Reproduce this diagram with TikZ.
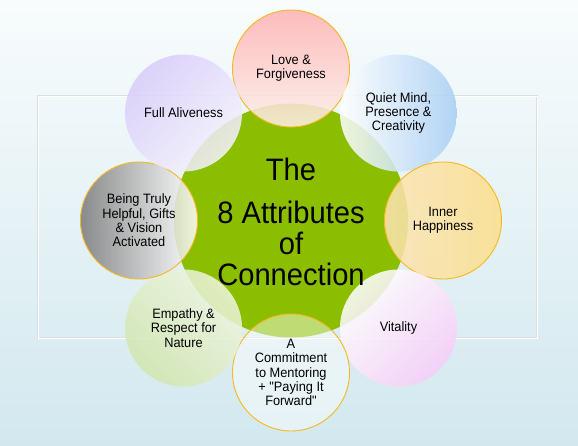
\documentclass[tikz,border=0pt]{standalone}
\usepackage{fontspec}
\setmainfont{Liberation Sans}
\newfontfamily\satfont[FakeStretch=0.94]{Liberation Sans}
\definecolor{bgtop}{HTML}{F8FCFD}
\definecolor{bgbot}{HTML}{D2E8EF}
\definecolor{hubgreen}{HTML}{8CBE00}
\definecolor{rimorange}{HTML}{F6B81E}
\definecolor{lovepink}{HTML}{FDB2B2}
\definecolor{lovelight}{HTML}{FFF0EA}
\definecolor{quietblue}{HTML}{A8CEF4}
\definecolor{innerlight}{HTML}{FCE4B4}
\definecolor{innergold}{HTML}{FCDF8A}
\definecolor{vitalpink}{HTML}{F8CDF8}
\definecolor{empgreen}{HTML}{D2E6AE}
\definecolor{emplight}{HTML}{EEF5E0}
\definecolor{helpgray}{HTML}{7A7A7A}
\definecolor{alivelav}{HTML}{D8CCFA}
\definecolor{alivelight}{HTML}{F6F3FD}
\begin{document}
\begin{tikzpicture}[x=1pt,y=1pt,
  sat/.style={circle,minimum size=117pt,inner sep=0pt,align=center,
    font=\satfont\fontsize{13.6}{14.3}\selectfont,fill opacity=0.86,text opacity=1},
  rim/.style={draw=rimorange,line width=0.9pt,draw opacity=1}]
% background and frame
\shade[top color=bgtop,middle color=bgtop,bottom color=bgbot] (-291,-225.5) rectangle (287,220.5);
\draw[black!13,line width=2.4pt] (-253,-117.5) rectangle (246,124.5);
\draw[white,line width=0.6pt] (-253,-117.5) rectangle (246,124.5);
% hub
\node[circle,fill=hubgreen,minimum size=234pt,inner sep=0pt] (hub) at (0,0) {};
% the eight attributes
\node[sat,rim,top color=lovepink,bottom color=lovelight] (love) at (90:152) {Love \&\\Forgiveness};
\node[sat,left color=white,right color=quietblue] (quiet) at (45:152) {Quiet Mind,\\Presence \&\\Creativity};
\node[sat,rim,left color=innerlight,right color=innergold] (inner) at (0:152) {Inner\\Happiness};
\node[sat,top color=white,bottom color=vitalpink,shading angle=45] (vital) at (-45:152) {Vitality};
\node[sat,rim,fill=white,fill opacity=0.45] (mentor) at (-90:152) {A\\Commitment\\to Mentoring\\+ "Paying It\\Forward"};
\node[sat,top color=emplight,bottom color=empgreen,shading angle=-45] (empathy) at (-135:152) {Empathy \&\\Respect for\\Nature};
\node[sat,rim,left color=helpgray,right color=white] (helpful) at (180:152) {Being Truly\\Helpful, Gifts\\\& Vision\\Activated};
\node[sat,top color=alivelav,bottom color=alivelight,shading angle=45] (alive) at (135:152) {Full Aliveness};
% title
\node[font=\satfont\fontsize{31}{31}\selectfont,align=center] (title) at (0,-1) {The\\[12pt]8 Attributes\\of\\Connection};
\end{tikzpicture}
\end{document}
